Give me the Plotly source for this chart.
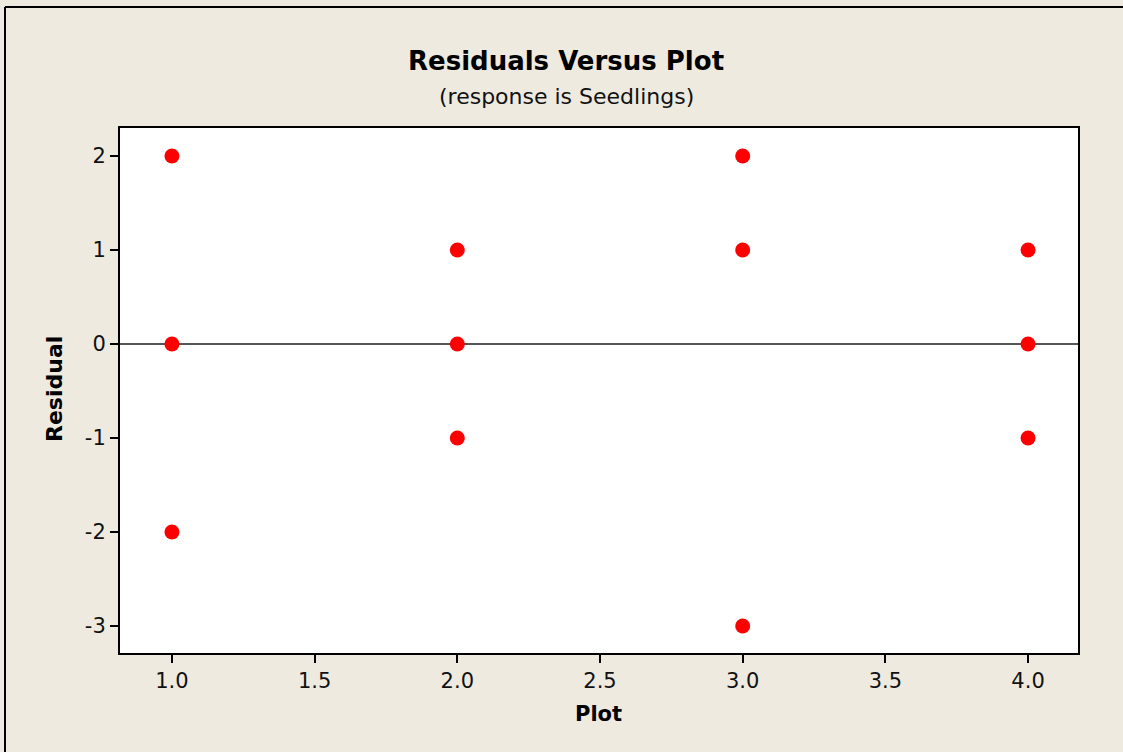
import plotly.graph_objects as go

plot_x = [1, 1, 1, 2, 2, 2, 3, 3, 3, 4, 4, 4]
residuals = [2, 0, -2, 1, 0, -1, 2, 1, -3, 1, 0, -1]
x_ticks = [1.0, 1.5, 2.0, 2.5, 3.0, 3.5, 4.0]
x_tick_labels = ["1.0", "1.5", "2.0", "2.5", "3.0", "3.5", "4.0"]
y_ticks = [-3, -2, -1, 0, 1, 2]
y_tick_labels = ["-3", "-2", "-1", "0", "1", "2"]

W, H = 1123, 752
L, R, T, B = 120, 45, 128, 99
pw, ph = W - L - R, H - T - B

def px_to_paper_x(px):
    return (px - L) / pw

def px_to_paper_y(py):
    return (H - B - py) / ph

FONT = "DejaVu Sans"
BG = "#EEEAE0"

fig = go.Figure()
fig.add_trace(go.Scatter(
    x=plot_x, y=residuals, mode="markers",
    marker=dict(color="#FF0000", size=15, line=dict(width=0)),
    showlegend=False, cliponaxis=False,
))

axis_common = dict(
    showline=True, linecolor="black", linewidth=2, mirror=True,
    ticks="outside", ticklen=8, tickwidth=2, tickcolor="black",
    showgrid=False,
    tickfont=dict(family=FONT, size=21, color="#111111"),
)

fig.update_layout(
    width=W, height=H,
    margin=dict(l=L, r=R, t=T, b=B),
    paper_bgcolor=BG, plot_bgcolor="white",
    xaxis=dict(range=[0.818, 4.175], tickvals=x_ticks, ticktext=x_tick_labels,
               zeroline=False, **axis_common),
    yaxis=dict(range=[-3.287, 2.298], tickvals=y_ticks, ticktext=y_tick_labels,
               zeroline=True, zerolinecolor="#555555", zerolinewidth=2, **axis_common),
    annotations=[
        dict(text="<b>Residuals Versus Plot</b>", xref="paper", yref="paper",
             x=px_to_paper_x(566), y=px_to_paper_y(61), showarrow=False,
             font=dict(family=FONT, size=26, color="black"), xanchor="center", yanchor="middle"),
        dict(text="(response is Seedlings)", xref="paper", yref="paper",
             x=px_to_paper_x(566), y=px_to_paper_y(96), showarrow=False,
             font=dict(family=FONT, size=22, color="#111111"), xanchor="center", yanchor="middle"),
        dict(text="<b>Plot</b>", xref="paper", yref="paper",
             x=px_to_paper_x(598), y=px_to_paper_y(714), showarrow=False,
             font=dict(family=FONT, size=21, color="black"), xanchor="center", yanchor="middle"),
        dict(text="<b>Residual</b>", xref="paper", yref="paper", textangle=-90,
             x=px_to_paper_x(54), y=px_to_paper_y(389), showarrow=False,
             font=dict(family=FONT, size=22, color="black"), xanchor="center", yanchor="middle"),
    ],
    shapes=[
        dict(type="line", xref="paper", yref="paper",
             x0=px_to_paper_x(5), x1=px_to_paper_x(1130),
             y0=px_to_paper_y(7), y1=px_to_paper_y(7),
             line=dict(color="black", width=2)),
        dict(type="line", xref="paper", yref="paper",
             x0=px_to_paper_x(5), x1=px_to_paper_x(5),
             y0=px_to_paper_y(7), y1=px_to_paper_y(760),
             line=dict(color="black", width=2)),
    ],
)

fig.write_html(
    "out.html",
    config={"displayModeBar": False},
    post_script="document.body.style.margin='0';document.body.style.overflow='hidden';",
)
